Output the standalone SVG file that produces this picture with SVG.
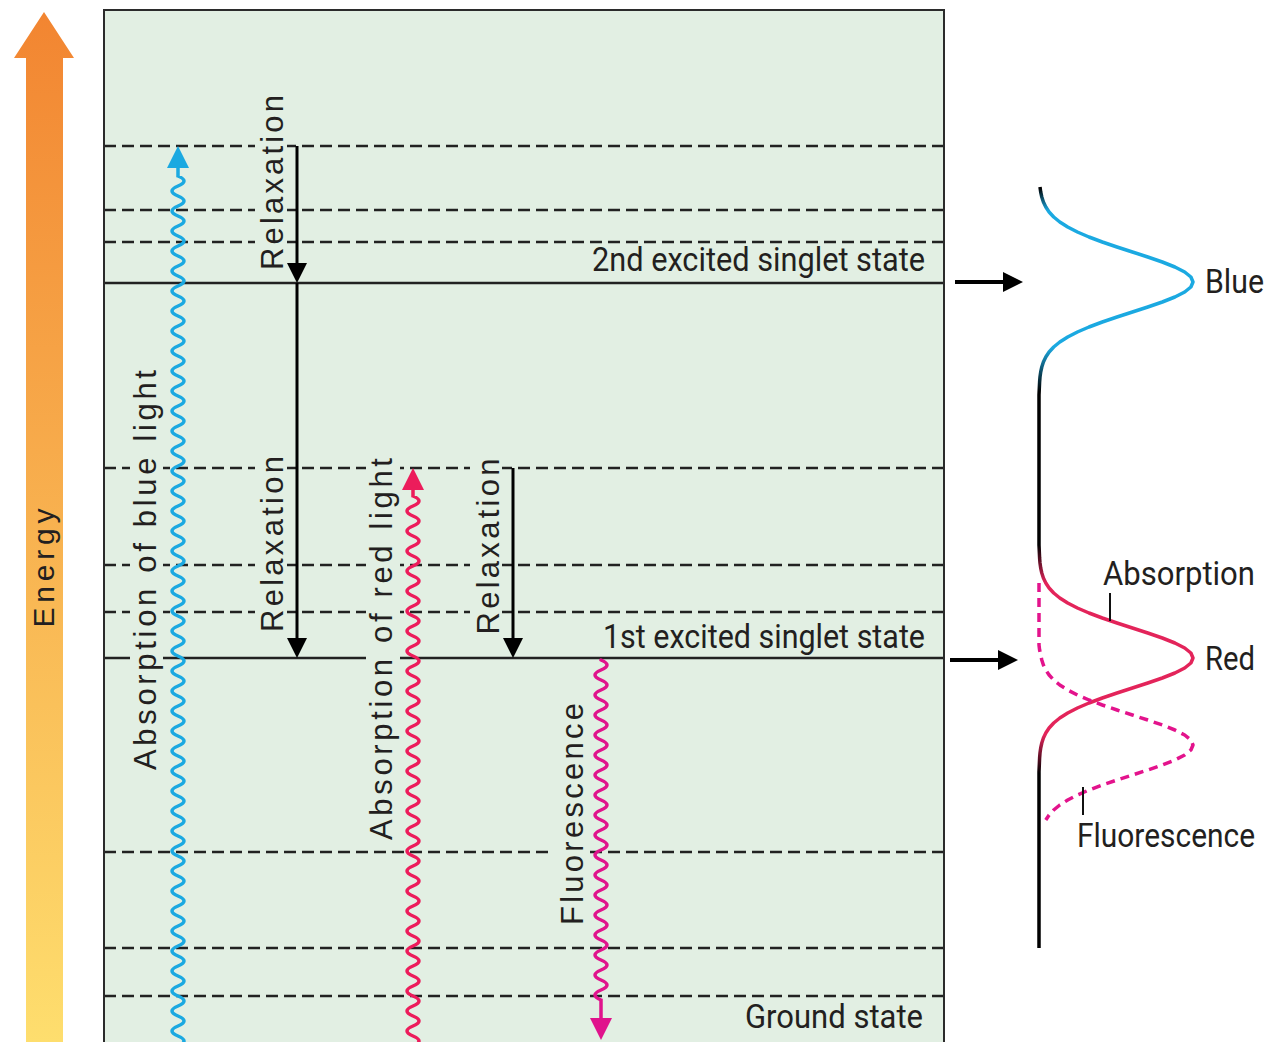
<svg xmlns="http://www.w3.org/2000/svg" width="1280" height="1042" viewBox="0 0 1280 1042">
<style>
.dash{stroke:#222;stroke-width:2.5;stroke-dasharray:12 6;fill:none}
.solid{stroke:#222;stroke-width:2.5;fill:none}
.tbg{fill:#e2efe3}
.rot{font-family:"Liberation Sans",Arial,sans-serif;font-size:31px;fill:#231f20;text-anchor:middle}
.lab{font-family:Roboto,"Liberation Sans",sans-serif;font-size:33px;fill:#231f20}
.relax{stroke:#000;stroke-width:3;fill:none;marker-end:url(#hBlack)}
.wave{stroke-width:3.5;fill:none;stroke-linecap:round}
.lead{stroke:#111;stroke-width:2;fill:none}
</style>
<defs>
<linearGradient id="gEnergy" x1="0" y1="12" x2="0" y2="1042" gradientUnits="userSpaceOnUse">
<stop offset="0" stop-color="#f28531"/>
<stop offset="1" stop-color="#fede6e"/>
</linearGradient>
<linearGradient id="gSpec" x1="0" y1="188" x2="0" y2="948" gradientUnits="userSpaceOnUse">
<stop offset="0" stop-color="#000"/>
<stop offset="0.03" stop-color="#1ba9e1"/>
<stop offset="0.21" stop-color="#1ba9e1"/>
<stop offset="0.268" stop-color="#000"/>
<stop offset="0.47" stop-color="#000"/>
<stop offset="0.52" stop-color="#e3245a"/>
<stop offset="0.72" stop-color="#e3245a"/>
<stop offset="0.77" stop-color="#000"/>
<stop offset="1" stop-color="#000"/>
</linearGradient>
<marker id="hBlack" viewBox="0 0 20 20" refX="0" refY="10" markerWidth="20" markerHeight="20" markerUnits="userSpaceOnUse" orient="auto">
<path d="M0,0 L20,10 L0,20 z" fill="#000"/>
</marker>
<marker id="hBlue" viewBox="0 0 22 22" refX="0" refY="11" markerWidth="22" markerHeight="22" markerUnits="userSpaceOnUse" orient="auto-start-reverse">
<path d="M0,0 L22,11 L0,22 z" fill="#1ba9e1"/>
</marker>
<marker id="hRed" viewBox="0 0 22 22" refX="0" refY="11" markerWidth="22" markerHeight="22" markerUnits="userSpaceOnUse" orient="auto-start-reverse">
<path d="M0,0 L22,11 L0,22 z" fill="#ec1c5b"/>
</marker>
<marker id="hMag" viewBox="0 0 22 22" refX="0" refY="11" markerWidth="22" markerHeight="22" markerUnits="userSpaceOnUse" orient="auto">
<path d="M0,0 L22,11 L0,22 z" fill="#e0138c"/>
</marker>
</defs>

<g id="energy-axis">
<path d="M44,12 L74,58 L63,58 L63,1042 L26,1042 L26,58 L14,58 z" fill="url(#gEnergy)"/>
<text class="rot" style="font-size:30px" transform="translate(54,568) rotate(-90)" textLength="119" lengthAdjust="spacing">Energy</text>
</g>

<g id="diagram-box">
<rect x="104" y="10" width="840" height="1040" fill="#e2efe3"/>
</g>

<g id="levels">
<line class="dash" x1="104" y1="146" x2="944" y2="146"/>
<line class="dash" x1="104" y1="210" x2="944" y2="210"/>
<line class="dash" x1="104" y1="242" x2="944" y2="242"/>
<line class="solid" x1="104" y1="283" x2="944" y2="283"/>
<line class="dash" x1="104" y1="468" x2="944" y2="468"/>
<line class="dash" x1="104" y1="565" x2="944" y2="565"/>
<line class="dash" x1="104" y1="612" x2="944" y2="612"/>
<line class="solid" x1="104" y1="658" x2="944" y2="658"/>
<line class="dash" x1="104" y1="852" x2="944" y2="852"/>
<line class="dash" x1="104" y1="948" x2="944" y2="948"/>
<line class="dash" x1="104" y1="996" x2="944" y2="996"/>
</g>

<g id="level-labels">
<text class="lab" x="592" y="271" textLength="333" lengthAdjust="spacingAndGlyphs">2nd excited singlet state</text>
<text class="lab" x="603" y="648" textLength="322" lengthAdjust="spacingAndGlyphs">1st excited singlet state</text>
<text class="lab" x="745" y="1028" textLength="178" lengthAdjust="spacingAndGlyphs">Ground state</text>
</g>

<g id="transition-labels">
<rect class="tbg" x="255" y="92" width="32" height="181"/>
<text class="rot" transform="translate(283,182.5) rotate(-90)" textLength="175" lengthAdjust="spacing">Relaxation</text>
<rect class="tbg" x="255" y="452" width="32" height="184"/>
<text class="rot" transform="translate(283,544) rotate(-90)" textLength="176" lengthAdjust="spacing">Relaxation</text>
<rect class="tbg" x="470" y="455" width="32" height="184"/>
<text class="rot" transform="translate(499,546.5) rotate(-90)" textLength="176" lengthAdjust="spacing">Relaxation</text>
<rect class="tbg" x="130" y="366" width="33" height="408"/>
<text class="rot" transform="translate(156,570) rotate(-90)" textLength="400" lengthAdjust="spacing">Absorption of blue light</text>
<rect class="tbg" x="366" y="454" width="34" height="390"/>
<text class="rot" transform="translate(392,649) rotate(-90)" textLength="382" lengthAdjust="spacing">Absorption of red light</text>
<rect class="tbg" x="554" y="699" width="33" height="230"/>
<text class="rot" transform="translate(583,814) rotate(-90)" textLength="222" lengthAdjust="spacing">Fluorescence</text>
</g>

<g id="connectors">
<path class="relax" d="M297,146 L297,263"/>
<path class="relax" d="M297,283 L297,638"/>
<path class="relax" d="M513,468 L513,638"/>
<path class="wave" stroke="#1ba9e1" marker-start="url(#hBlue)" d="M178,168 L178,176 q12,5 0,10 t0,10 t0,10 t0,10 t0,10 t0,10 t0,10 t0,10 t0,10 t0,10 t0,10 t0,10 t0,10 t0,10 t0,10 t0,10 t0,10 t0,10 t0,10 t0,10 t0,10 t0,10 t0,10 t0,10 t0,10 t0,10 t0,10 t0,10 t0,10 t0,10 t0,10 t0,10 t0,10 t0,10 t0,10 t0,10 t0,10 t0,10 t0,10 t0,10 t0,10 t0,10 t0,10 t0,10 t0,10 t0,10 t0,10 t0,10 t0,10 t0,10 t0,10 t0,10 t0,10 t0,10 t0,10 t0,10 t0,10 t0,10 t0,10 t0,10 t0,10 t0,10 t0,10 t0,10 t0,10 t0,10 t0,10 t0,10 t0,10 t0,10 t0,10 t0,10 t0,10 t0,10 t0,10 t0,10 t0,10 t0,10 t0,10 t0,10 t0,10 t0,10 t0,10 t0,10 t0,10 t0,10 t0,10 t0,10 t0,10 t0,10 t0,10"/>
<path class="wave" stroke="#ec1c5b" marker-start="url(#hRed)" d="M413,490 L413,496 q12,5 0,10 t0,10 t0,10 t0,10 t0,10 t0,10 t0,10 t0,10 t0,10 t0,10 t0,10 t0,10 t0,10 t0,10 t0,10 t0,10 t0,10 t0,10 t0,10 t0,10 t0,10 t0,10 t0,10 t0,10 t0,10 t0,10 t0,10 t0,10 t0,10 t0,10 t0,10 t0,10 t0,10 t0,10 t0,10 t0,10 t0,10 t0,10 t0,10 t0,10 t0,10 t0,10 t0,10 t0,10 t0,10 t0,10 t0,10 t0,10 t0,10 t0,10 t0,10 t0,10 t0,10 t0,10 t0,10 t0,10 t0,10 t0,10"/>
<path class="wave" stroke="#e0138c" marker-end="url(#hMag)" d="M601,660 q12,5 0,10 t0,10 t0,10 t0,10 t0,10 t0,10 t0,10 t0,10 t0,10 t0,10 t0,10 t0,10 t0,10 t0,10 t0,10 t0,10 t0,10 t0,10 t0,10 t0,10 t0,10 t0,10 t0,10 t0,10 t0,10 t0,10 t0,10 t0,10 t0,10 t0,10 t0,10 t0,10 t0,10 t0,10 L601,1018"/>
<path d="M955,282 L1003,282" stroke="#000" stroke-width="4" fill="none" marker-end="url(#hBlack)"/>
<path d="M950,660 L998,660" stroke="#000" stroke-width="4" fill="none" marker-end="url(#hBlack)"/>
</g>

<g id="box-border">
<rect x="104" y="10" width="840" height="1040" fill="none" stroke="#2b2b2b" stroke-width="2"/>
</g>

<g id="spectrum">
<path fill="none" stroke="url(#gSpec)" stroke-width="3.5" stroke-linejoin="round" d="M1040,187 L1040.7,192 1041.8,197 1043.4,202 1045.8,207 1049.1,212 1053.7,217 1059.8,222 1067.7,227 1077.4,232 1089,237 1102.3,242 1117,247 1132.4,252 1147.8,257 1162.3,262 1174.9,267 1184.7,272 1190.9,277 1193,282 1190.9,287 1184.7,292 1174.9,297 1162.3,302 1147.8,307 1132.4,312 1117,317 1102.3,322 1089,327 1077.4,332 1067.7,337 1059.8,342 1053.7,347 1049.1,352 1045.8,357 1043.4,362 1041.8,367 1040.7,372 1040,377 1039.6,382 1039,395 1039,545 1039.6,558 1040,563 1040.7,568 1041.8,573 1043.4,578 1045.8,583 1049.1,588 1053.7,593 1059.8,598 1067.7,603 1077.4,608 1089,613 1102.3,618 1117,623 1132.4,628 1147.8,633 1162.3,638 1174.9,643 1184.7,648 1190.9,653 1193,658 1190.9,663 1184.7,668 1174.9,673 1162.3,678 1147.8,683 1132.4,688 1117,693 1102.3,698 1089,703 1077.4,708 1067.7,713 1059.8,718 1053.7,723 1049.1,728 1045.8,733 1043.4,738 1041.8,743 1040.7,748 1040,753 1039.6,758 1039,772 1039,948"/>
<path fill="none" stroke="#e3138c" stroke-width="3.5" stroke-dasharray="9 6" stroke-linejoin="round" d="M1039,583 L1039,645 1039.6,650 1040.7,655 1041.8,660 1043.4,665 1045.8,670 1049.1,675 1053.7,680 1059.8,685 1067.7,690 1077.4,695 1089,700 1102.3,705 1117,710 1132.4,715 1147.8,720 1162.3,725 1174.9,730 1184.7,735 1190.9,740 1193,745 1190.9,750 1184.7,755 1174.9,760 1162.3,765 1147.8,770 1132.4,775 1117,780 1102.3,785 1089,790 1077.4,795 1067.7,800 1059.8,805 1053.7,810 1049.1,815 1045.8,820"/>
<line class="lead" x1="1110" y1="593" x2="1110" y2="621"/>
<line class="lead" x1="1083" y1="787" x2="1083" y2="815"/>
<text class="lab" x="1205" y="293" textLength="59" lengthAdjust="spacingAndGlyphs">Blue</text>
<text class="lab" x="1205" y="670" textLength="50" lengthAdjust="spacingAndGlyphs">Red</text>
<text class="lab" x="1103" y="585" textLength="152" lengthAdjust="spacingAndGlyphs">Absorption</text>
<text class="lab" x="1077" y="847" textLength="178" lengthAdjust="spacingAndGlyphs">Fluorescence</text>
</g>
</svg>
